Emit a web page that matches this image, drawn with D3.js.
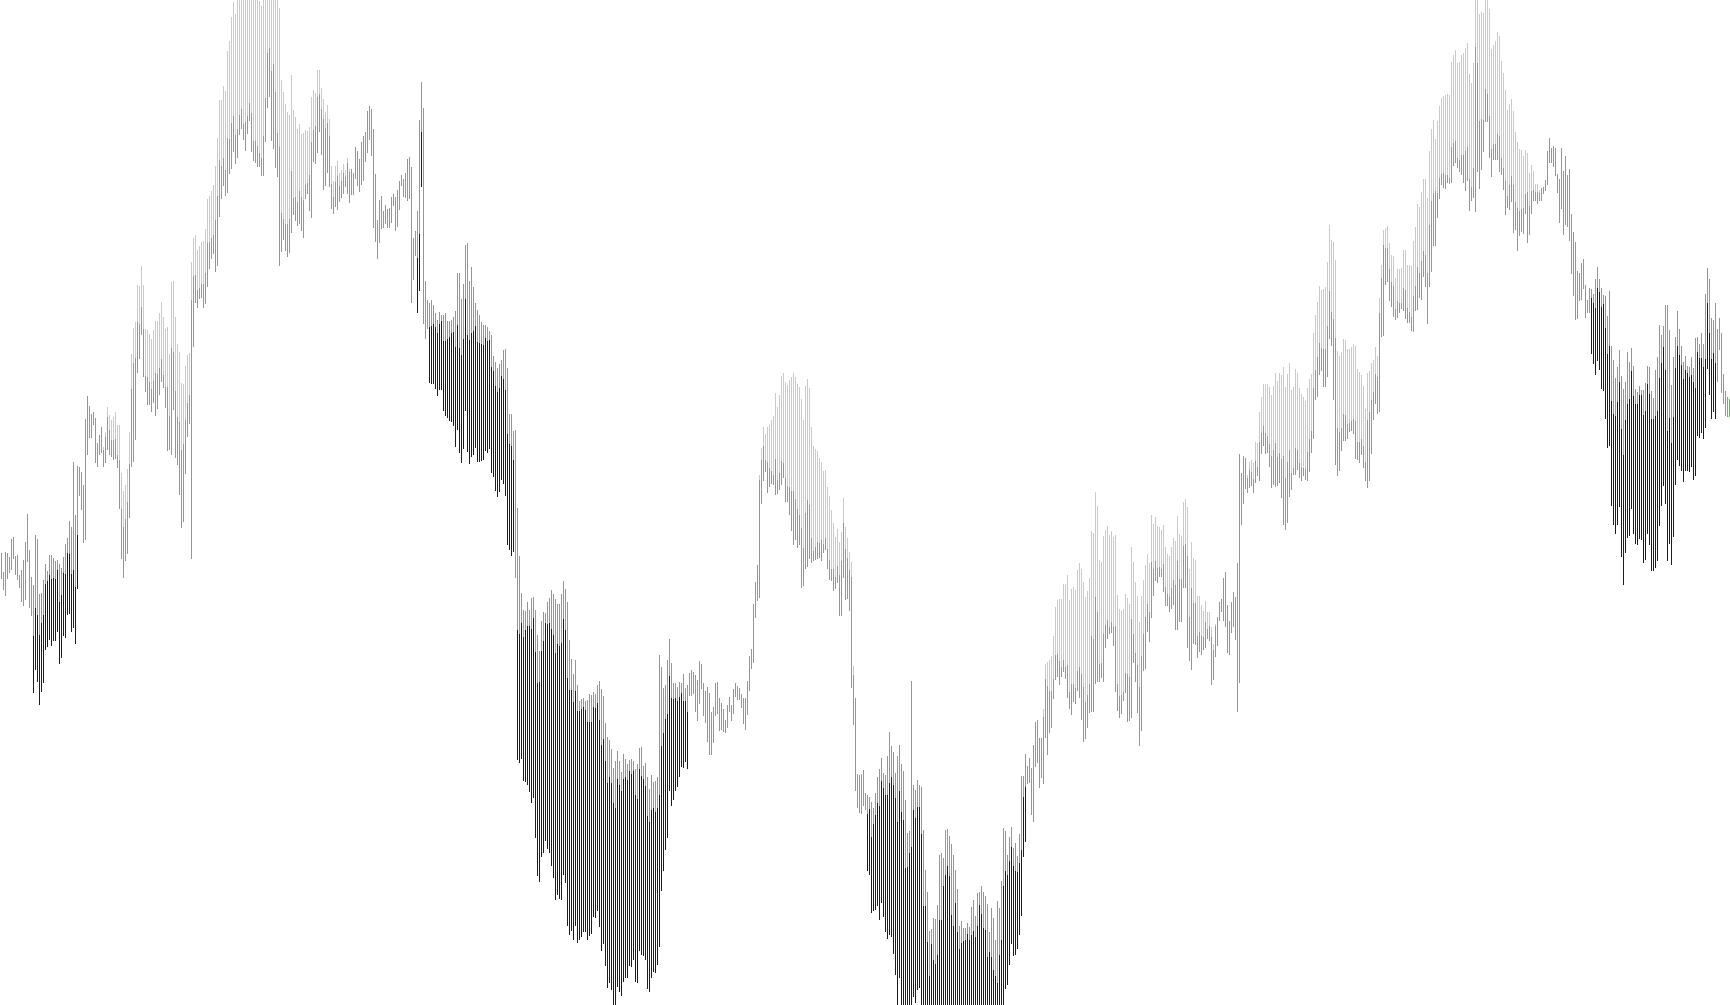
<!DOCTYPE html>
<html><head><meta charset="utf-8">
<script src="https://d3js.org/d3.v7.min.js"></script>
<style>html,body{margin:0;padding:0;background:#fff;overflow:hidden}svg{display:block}</style>
</head><body>
<svg id="c" width="1730" height="1005"></svg>
<script>
// Range-bar series. Values grow downward (depth axis).
// edges: 0 = one-colour bar, positive = gold above that level, negative = blue below that level.
const highsA=[553,572,552,553,557,539,537,556,555,575,570,560,542,514,550,577,585,535,539,594,593,580,564,571,555,555,558,561,560,564,568,557,544,538,521,527,462,515,466,467,472,485,419,396,406,414,412,418,443,435,427,447,432,407,415,420,417,412,425,425,473,491,485,469,432,354,328,322,285,286,266,285,329,330,334,339,330,321,321,313,302,317,329,327,354,282];
const lowsA=[579,590,596,579,573,570,559,575,580,588,602,606,600,562,608,616,693,670,682,705,692,683,650,647,640,646,641,641,632,664,658,636,638,615,614,632,628,644,589,496,510,543,540,455,438,438,425,463,467,455,453,467,463,450,455,457,460,459,468,509,559,578,561,554,518,467,462,440,373,359,335,377,392,405,405,412,403,416,409,395,382,388,408,451,450,455];
const edgesA=[0,0,0,0,0,0,0,0,0,0,0,0,0,0,0,0,-636,-608,-615,-635,-623,-615,-584,-581,-575,-579,-578,-579,-570,-602,-595,-573,-574,-553,-554,-574,-570,-587,-535,0,0,0,0,0,0,0,0,0,0,0,0,450,437,417,430,440,440,439,455,460,509,527,519,502,464,389,363,358,322,324,307,329,376,377,382,389,381,373,374,368,359,375,387,387,416,348];

const highsB=[281,317,344,352,383,384,366,355,353,262,238,235,250,246,242,241,229,199,196,191,185,166,138,100,100,86,91,51,41,17,2,14,-20,-20,-20,-20,-20,-20,-20,-20,-20,-20,-20,1,6,-20,-20,-20,-20,-20,-20,-20,-20,8,80,92,104,112,115,75,110,117,129,124,134,133,130,131,127,97,90,93,70,70,88,99,112,105,119,166,181,166,161,173,170,164,170];
const lowsB=[410,458,465,495,528,522,474,437,424,559,347,303,308,299,298,308,304,287,269,259,254,272,266,217,199,186,196,193,174,169,152,164,158,135,129,140,151,134,121,152,161,163,167,167,176,176,142,108,97,141,149,168,177,266,252,240,251,257,253,233,215,221,226,224,231,238,199,194,211,218,162,164,153,132,155,190,186,173,187,209,214,207,210,202,198,194,187];
const edgesB=[352,391,417,422,450,444,420,403,395,300,276,275,290,288,284,284,273,243,242,238,235,220,196,160,166,158,170,138,139,123,116,135,129,115,109,124,122,116,103,113,141,141,146,153,158,136,98,53,48,71,64,92,133,147,213,219,224,224,219,171,198,197,202,191,197,200,185,183,175,142,130,126,97,94,109,119,128,123,136,184,197,182,176,186,181,173,177];

const highsC=[158,169,169,173,147,151,159,142,136,132,111,106,109,129,174,220,200,196,211,205,209,208,197,194,197,190,181,175,179,173,159,157,167,238,231,211,120,82,108,281,300,303,300,305,313,320,312,315,315,313,321,321,320,317,311,273,273,299,284,245,243,281,267,287,303,310,315,322,325,325,327,331,335,356,362,368,364,360,350,349,368,414,414,431,430,508];
const lowsC=[194,203,195,195,179,186,192,185,181,162,153,140,156,228,242,259,243,229,228,224,228,228,223,206,231,227,210,186,197,198,201,199,303,280,256,313,291,187,324,339,329,383,384,384,389,396,390,390,411,416,418,421,422,426,447,430,453,463,449,411,452,464,457,455,448,462,462,461,460,451,453,449,473,477,491,497,492,480,484,496,545,550,556,552,578,760];
const edgesC=[163,172,0,0,0,0,0,0,0,0,0,0,0,0,0,0,0,0,0,0,0,0,0,0,0,0,0,0,0,0,0,0,0,0,0,-258,-234,-132,0,0,0,-327,-326,-324,-327,-333,-324,-321,-341,-341,-339,-337,-333,-332,-347,-325,-348,-355,-339,-299,-335,-340,-333,-331,-326,-342,-343,-344,-345,-338,-341,-340,-367,-371,-386,-392,-388,-376,-379,-390,-434,-444,-446,-460,0,-630];

const highsD=[556,593,610,611,602,610,598,597,610,635,651,621,612,613,602,598,590,594,599,604,604,594,581,589,602,640,659,674,660,685,701,699,698,701,700,694,695,692,694,685,681,689,696,723,737,740,749,768,761,751,761,772,754,759,764,760,759,761,769,764,748,747,766,763,777,789,775,782,781,777,655,667,688,685,660,639,663,683,683,687,682,683,674,688,685,673,670];
const lowsD=[763,759,781,782,785,792,803,798,838,876,882,857,853,841,849,853,866,878,900,895,899,900,875,883,926,935,931,940,926,943,940,937,932,932,940,936,934,917,918,911,927,951,944,966,988,983,990,1005,1005,987,992,996,982,978,978,966,967,960,982,983,951,955,956,960,989,992,978,972,973,965,947,891,871,850,838,791,806,800,791,787,777,767,768,762,769,696,696];
const edgesD=[-634,-623,-637,-630,-626,-626,-629,-618,-652,-683,-682,-651,-641,-623,-624,-623,-629,-635,-653,-644,-646,-643,-619,-630,-678,-690,-690,-702,-691,-711,-711,-709,-707,-710,-722,-722,-722,-707,-708,-703,-720,-745,-739,-761,-783,-777,-783,-803,-808,-779,-785,-791,-779,-777,-780,-771,-774,-771,-795,-799,-769,-776,-779,-786,-816,-822,-810,-808,-812,-808,-795,-746,-733,-719,-714,-676,-698,-699,-698,-701,-697,-693,-701,-701,-712,0,0];

const highsE=[672,675,680,661,664,683,691,687,693,712,707,683,682,698,703,709,720,705,697,705,689,683,686,688,694,698,698,681,656,649,604,582,565,475,448,427,434,427,425,420,416,393,407,395,376,373,382,385,380,377,373,377,384,387,399,420,386,379,388,427,446,449,451,458,462,471,470,487,496,510,523,537,529,542,532,498,527,538,552,562,666,698,774,775,774,770];
const lowsE=[694,712,721,704,689,716,723,742,755,755,743,716,714,731,730,732,733,728,712,721,714,697,700,700,708,724,730,715,691,669,663,618,601,598,504,481,472,493,487,484,485,495,494,490,485,478,502,502,515,531,545,540,548,545,588,586,569,567,559,563,561,560,559,558,561,553,550,569,580,581,591,589,583,616,616,578,600,599,611,688,725,791,808,813,814,806];
const edgesE=[0,0,0,0,0,0,0,0,0,0,0,0,0,0,0,0,0,0,0,0,0,0,0,0,0,0,0,0,0,0,0,0,0,480,460,446,460,462,468,471,475,459,480,473,461,463,478,486,487,491,491,499,509,515,528,548,513,500,505,538,551,547,542,543,540,544,538,549,560,569,569,577,566,575,561,523,549,558,570,577,675,0,0,0,0,0];

const highsF=[793,795,797,802,808,793,777,769,758,773,775,756,732,746,752,773,756,745,764,771,800,833,831,681,785,790,780,785,787,830,870,892,931,929,918,919,905,855,853,858,830,829,836,844,855,870,889,926,921,928,928,923,927,907,900,916,893,892,886,892,896,904,932,908,918,940,901,908,881,828,831,855,837,827,848,843,856,834,776,776,754,766,758,768,745,722,720];
const lowsF=[810,871,875,913,911,910,906,920,903,917,932,939,935,937,954,975,1005,978,1005,1005,1005,1005,1005,1005,997,1003,990,988,1005,1005,1005,1005,1005,1005,1005,1005,1005,1005,1005,1005,1005,1005,1005,1005,1005,1005,1005,1005,1005,1005,1005,1005,1005,1005,1005,1005,1005,1005,1005,1005,1005,1005,1005,1005,1005,1005,1005,1005,1005,1005,989,985,965,944,956,955,949,935,916,857,842,784,783,815,822,767,763];
const edgesF=[0,-814,-809,-837,-824,-815,-803,-806,-781,-788,-795,-795,-783,-777,-785,-798,-822,-791,-812,-820,-868,-867,-853,-847,-810,-818,-807,-807,-834,-906,-906,-942,-976,-944,-960,-964,-955,-920,-920,-886,-875,-866,-876,-915,-926,-903,-932,-949,-943,-941,-940,-934,-940,-935,-931,-937,-926,-905,-914,-928,-930,-957,-952,-957,-970,-976,-983,-955,-940,-886,-871,-875,-861,-847,-866,-871,-872,-863,-850,-797,-787,0,0,0,0,0,0];

const highsG=[738,738,709,664,662,660,656,636,607,600,599,599,584,584,575,600,589,587,590,570,563,569,582,597,591,578,531,533,492,506,560,562,536,530,526,535,531,537,535,595,609,611,609,594,598,604,547,562,582,596,622,596,580,565,554,563,515,524,517,526,527,530,525,547,554,556,547,538,541,516,534,536,502,499,507,569,542,558,560,596,596,605,611,601,612,612];
const lowsG=[788,778,784,738,755,733,728,699,680,677,685,677,672,679,698,709,715,702,704,691,698,720,742,739,728,713,712,712,684,682,682,678,682,648,639,634,633,646,692,711,718,714,701,693,722,721,718,663,682,713,746,731,671,669,632,642,618,596,581,583,577,577,592,606,606,612,609,605,630,630,622,622,588,588,648,661,670,644,645,658,652,655,650,648,639,641];
const edgesG=[0,0,717,679,686,691,691,679,655,654,661,667,660,667,665,692,684,684,688,671,667,674,687,702,695,684,636,639,597,612,664,663,634,625,620,627,622,627,626,684,696,695,692,673,674,677,619,634,653,665,687,656,634,617,604,612,562,569,561,568,567,569,564,587,594,597,588,580,585,561,579,579,546,544,556,617,588,603,603,636,632,636,637,622,629,626];

const highsH=[627,644,624,617,602,599,578,572,605,621,602,592,597,563,454,473,456,458,475,462,460,463,442,443,412,397,384,384,384,387,395,386,373,381,373,375,367,387,374,363,390,387,369,373,388,394,397,401,388,379,374,333,315,302,286,290,289,287,262,225,240,242,260,351,356,352,339,340,349,349,347,344,346,369,372,375,386,409,373,371,363,360,347,356,298,265,230];
const lowsH=[685,680,657,646,621,612,621,627,653,655,633,627,640,712,683,525,504,489,493,488,486,493,483,476,481,454,446,454,453,467,488,485,487,486,483,498,525,530,523,497,490,475,475,470,478,481,476,480,481,472,453,439,400,397,375,371,387,387,377,339,346,400,465,476,471,451,441,441,439,432,431,434,459,460,463,455,468,481,488,481,454,420,404,414,412,337,336];
const edgesH=[637,650,626,0,0,0,0,0,0,0,0,0,0,0,0,0,0,0,478,470,472,479,461,467,442,433,426,433,436,444,456,450,443,457,453,459,456,478,462,450,473,468,448,450,463,467,468,469,452,439,431,388,370,357,343,348,349,349,326,291,312,319,338,428,432,428,414,415,424,423,421,419,421,442,442,439,446,462,420,412,400,392,374,377,313,278,245];

const highsI=[228,226,243,255,256,278,269,269,268,250,250,265,265,266,241,227,204,207,192,179,179,198,151,129,120,139,121,106,98,96,95,94,95,62,55,50,63,62,55,53,48,43,74,83,63,-20,0,14,12,13,-20,-20,9,49,45,41,32,36,61,73,90,110,104,99,111,132,142,149,150,156,150,153,173,165,171,184,184,190,188,187,180,151,138,148,146,148];
const lowsI=[285,282,301,307,317,320,318,313,309,311,319,323,323,331,332,311,310,298,300,277,287,324,287,272,246,246,218,199,185,188,189,183,184,183,166,163,168,172,175,183,191,181,211,201,198,212,172,189,170,152,122,122,158,177,160,160,160,172,175,190,215,208,210,202,233,230,251,236,232,234,214,243,235,214,201,201,204,201,201,194,191,185,163,163,167,176];
const edgesI=[248,248,269,282,286,309,301,303,303,288,290,308,312,317,296,286,267,273,261,251,255,273,225,201,193,191,193,178,174,173,175,175,178,147,143,141,158,160,155,155,151,147,179,187,168,47,63,121,119,120,89,94,116,149,144,144,134,136,158,168,181,196,185,176,185,202,208,211,209,208,194,192,206,191,190,192,192,193,0,0,0,0,0,0,0,0];

const highsJ=[174,179,148,171,156,175,169,214,232,242,271,273,263,259,285,300,288,289,294,279,267,279,288,295,296,316,291,346,360,378,367,350,376,389,382,352,362,348,366,389,392,386,390,390,383,366,367,391,398,370,357,325,335,326,305,305,330,385,357,337,311,329,346,362,356,366,367,357,368,338,337,344,333,344,294,268,279,318,320,303,329,318,333,374,391,397,399];
const lowsJ=[193,223,209,235,225,227,241,274,296,320,319,301,300,289,318,313,313,354,364,375,361,370,389,391,419,448,446,506,525,534,525,507,557,585,553,538,536,509,534,544,545,539,540,563,560,534,545,571,571,568,561,526,506,486,504,561,544,565,537,485,460,466,471,482,471,471,472,467,480,476,436,438,433,439,428,369,395,419,412,419,382,350,393,404,416,417,417];
const edgesJ=[0,0,0,0,0,0,0,0,0,0,0,0,0,0,0,0,0,-298,-303,-308,-288,-292,-307,-304,-328,-354,-346,-401,-414,-416,-402,-382,-429,-455,-420,-404,-399,-371,-396,-404,-404,-395,-395,-415,-411,-384,-394,-419,-419,-416,-411,-378,-363,-347,-370,-431,-418,-443,-417,-368,-346,-355,-365,-379,-370,-373,-377,-375,-382,-388,-352,-358,-358,-367,-359,-303,-333,-359,-353,-363,0,0,0,0,0,0,0];

const chunkStarts=[0,86,173,259,346,432,519,605,692,778];
const highs=[highsA,highsB,highsC,highsD,highsE,highsF,highsG,highsH,highsI,highsJ];
const lows=[lowsA,lowsB,lowsC,lowsD,lowsE,lowsF,lowsG,lowsH,lowsI,lowsJ];
const edges=[edgesA,edgesB,edgesC,edgesD,edgesE,edgesF,edgesG,edgesH,edgesI,edgesJ];

const GREEN="#00ff00",BLUE="#0000ff",GOLD="#ffd700";
const W=1730,H=1005;
const x=d3.scaleLinear().domain([0,864]).range([1,1729]);
const y=d3.scaleLinear().domain([0,1005]).range([0,H]);

const segs=[];
highs.forEach((hs,c)=>hs.forEach((h,j)=>{
  const i=chunkStarts[c]+j,l=lows[c][j],e=edges[c][j];
  if(e>0){segs.push({i,a:h,b:e,col:GOLD});segs.push({i,a:e,b:l,col:GREEN});}
  else if(e<0){segs.push({i,a:h,b:-e,col:GREEN});segs.push({i,a:-e,b:l,col:BLUE});}
  else segs.push({i,a:h,b:l,col:GREEN});
}));

d3.select("#c").append("g").attr("shape-rendering","crispEdges")
 .selectAll("rect").data(segs).join("rect")
 .attr("x",d=>x(d.i)).attr("width",1)
 .attr("y",d=>y(d.a)).attr("height",d=>Math.max(0,y(d.b)-y(d.a)))
 .attr("fill",d=>d.col);
</script>
</body></html>
